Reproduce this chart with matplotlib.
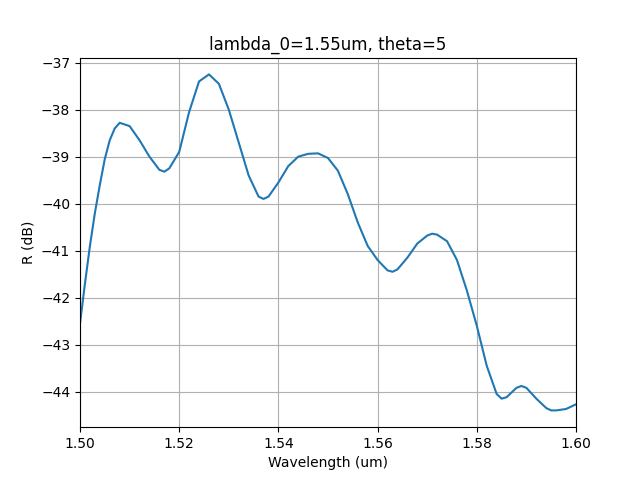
import matplotlib
matplotlib.use("Agg")
import matplotlib.pyplot as plt

wavelength = [1.500, 1.501, 1.502, 1.503, 1.504, 1.505, 1.506, 1.507, 1.508, 1.510, 1.512, 1.514, 1.516, 1.517, 1.518,
              1.520, 1.522, 1.524, 1.526, 1.528, 1.530, 1.532, 1.534, 1.536, 1.537, 1.538,
              1.540, 1.542, 1.544, 1.546, 1.548, 1.550, 1.552, 1.554, 1.556, 1.558, 1.560,
              1.562, 1.563, 1.564, 1.566, 1.568, 1.570, 1.571, 1.572, 1.574, 1.576, 1.578, 1.580,
              1.582, 1.584, 1.585, 1.586, 1.588, 1.589, 1.590, 1.592, 1.594, 1.595, 1.596, 1.598, 1.600]
r_db = [-42.55, -41.7, -40.9, -40.2, -39.6, -39.05, -38.65, -38.4, -38.28, -38.35, -38.65, -39.0, -39.28, -39.32, -39.25,
        -38.9, -38.05, -37.4, -37.25, -37.45, -38.0, -38.7, -39.4, -39.85, -39.9, -39.85,
        -39.55, -39.2, -39.0, -38.94, -38.93, -39.03, -39.3, -39.8, -40.4, -40.9, -41.2,
        -41.42, -41.45, -41.4, -41.15, -40.85, -40.68, -40.64, -40.66, -40.8, -41.2, -41.85, -42.6,
        -43.45, -44.05, -44.15, -44.12, -43.92, -43.88, -43.92, -44.15, -44.35, -44.4, -44.4, -44.37, -44.27]

fig, ax = plt.subplots(figsize=(6.4, 4.8), dpi=100)
ax.plot(wavelength, r_db, color="#1f77b4")
ax.set_xlim(1.50, 1.60)
ax.grid(True)
ax.set_xlabel("Wavelength (um)")
ax.set_ylabel("R (dB)")
ax.set_title("lambda_0=1.55um, theta=5")
fig.savefig("out.png")
